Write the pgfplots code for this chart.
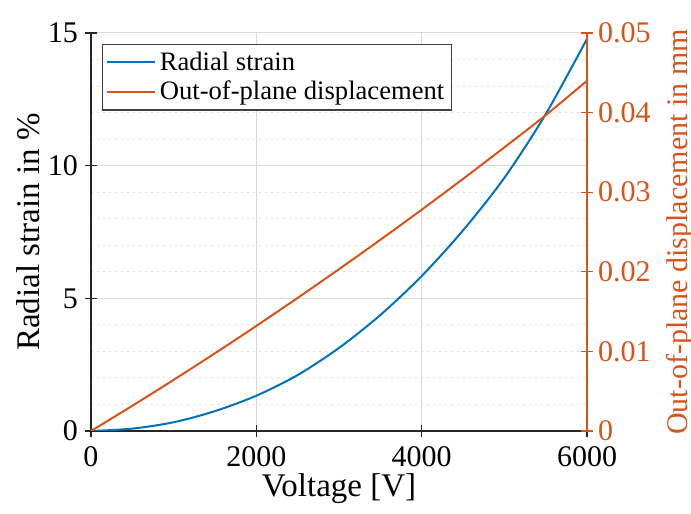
\documentclass[border=0pt]{standalone}
\usepackage{fontspec}
\setmainfont{Liberation Serif}
\usepackage{pgfplots}
\pgfplotsset{compat=1.18}
\definecolor{mblue}{rgb}{0,0.447,0.741}
\definecolor{morange}{rgb}{0.85,0.325,0.098}

\begin{document}
\begin{tikzpicture}
\pgfplotsset{
  every axis/.append style={
    scale only axis, width=248pt, height=199pt,
    xmin=0, xmax=6000,
    tick align=inside, major tick length=6pt,
    font=\fontsize{15}{17}\selectfont,
    label style={font=\fontsize{16.5}{19}\selectfont},
    /pgf/number format/assume math mode=true,
    /pgf/number format/1000 sep={},
  },
}
\begin{axis}[
    name=ax1,
    axis x line=bottom, axis y line=left,
    axis line style={-, black!85, line width=0.6pt},
    ymin=0, ymax=15,
    ytick={0,5,10,15},
    minor ytick={1,2,3,4,6,7,8,9,11,12,13,14},
    xtick={0,2000,4000,6000},
    grid=both,
    major grid style={gray!30, line width=0.5pt},
    minor grid style={gray!25, line width=0.5pt, dash pattern=on 1pt off 2pt},
    minor tick length=0pt,
    tick style={black!85, line width=0.6pt},
    xticklabel style={yshift=-1pt},
    xlabel={Voltage [V]},
    xlabel style={yshift=3pt},
    ylabel={Radial strain in \%},
    ylabel style={yshift=-3pt},
]
\addplot[mblue, line width=1pt, smooth] coordinates {
  (0,0) (500,0.09) (1000,0.33) (1500,0.75) (2000,1.33) (2500,2.11)
  (3000,3.13) (3500,4.37) (4000,5.84) (4500,7.56) (5000,9.54)
  (5500,11.94) (6000,14.78)
};
\end{axis}
\begin{axis}[
    axis x line=none, axis y line=right,
    axis line style={-, morange, line width=0.6pt},
    ymin=0, ymax=0.05,
    ytick={0,0.01,0.02,0.03,0.04,0.05},
    scaled y ticks=false,
    yticklabel style={/pgf/number format/fixed, /pgf/number format/precision=2, color=morange, xshift=-1pt},
    ytick style={morange, line width=0.6pt},
    ylabel={Out-of-plane displacement in mm},
    ylabel style={color=morange, yshift=-1pt},
    legend style={at={(0.022,0.972)}, anchor=north west, draw=black!75,
      line width=0.6pt, font=\fontsize{13.3}{15}\selectfont, inner sep=1.5pt,
      row sep=0pt},
    legend cell align=left,
    legend image code/.code={\draw[#1] (0cm,0cm) -- (0.85cm,0cm);},
]
\addlegendimage{mblue, line width=1pt}
\addlegendentry{Radial strain}
\addplot[morange, line width=1pt, smooth] coordinates {
  (0,0) (500,0.00317) (1000,0.00643) (1500,0.00977) (2000,0.0132)
  (2500,0.01672) (3000,0.02033) (3500,0.02402) (4000,0.0278)
  (4500,0.03167) (5000,0.03563) (5500,0.03967) (6000,0.0440)
};
\addlegendentry{Out-of-plane displacement}
\end{axis}
\pgfresetboundingbox
\path (ax1.south west) ++(-45.5pt,-41.5pt) rectangle ++(345.5pt,257pt);
\end{tikzpicture}
\end{document}
